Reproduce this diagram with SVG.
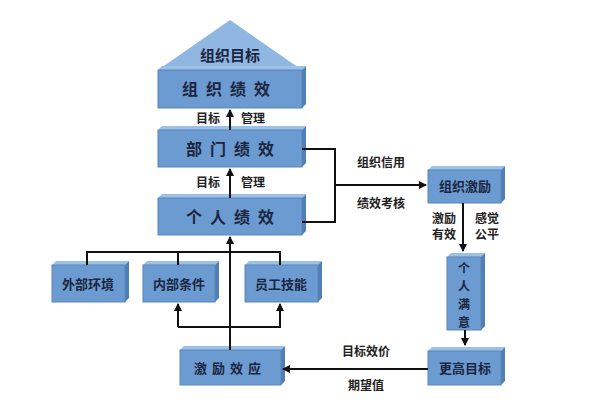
<svg xmlns="http://www.w3.org/2000/svg" width="616" height="406" viewBox="0 0 616 406">
<defs>
<marker id="ah" markerWidth="8" markerHeight="8" refX="7" refY="4" orient="auto" markerUnits="userSpaceOnUse"><path d="M0,0 L8,4 L0,8 z" fill="#111"/></marker>
</defs>
<style>
.b{fill:#6b9bd0;stroke:#5a86b8;stroke-width:1}
.t{fill:#9cc0e6}
.s{fill:#4f7fb4}
.x{font-family:"Noto Sans CJK SC",sans-serif;font-weight:bold;fill:#1c2640;text-anchor:middle}
.l{font-family:"Noto Sans CJK SC",sans-serif;font-weight:bold;fill:#222;font-size:12px;text-anchor:middle}
.c{fill:none;stroke:#111;stroke-width:2}
</style>
<rect width="616" height="406" fill="#fff"/>
<g id="roof"><polygon points="230,20 302,70 158,70" fill="#8fb7e2"/><text class="x" x="230" y="61" font-size="15">组织目标</text></g>
<g id="org"><polygon class="t" points="158,70 302,70 306,66 162,66"/><polygon class="s" points="302,70 306,66 306,104 302,108"/><rect class="b" x="158" y="70" width="144" height="38"/><text class="x" x="230" y="95" font-size="16" letter-spacing="8">组织绩效</text></g>
<g id="dept"><polygon class="t" points="158,130 302,130 306,126 162,126"/><polygon class="s" points="302,130 306,126 306,163 302,167"/><rect class="b" x="158" y="130" width="144" height="37"/><text class="x" x="234" y="155" font-size="16" letter-spacing="8">部门绩效</text></g>
<g id="indiv"><polygon class="t" points="158,198 302,198 306,194 162,194"/><polygon class="s" points="302,198 306,194 306,231 302,235"/><rect class="b" x="158" y="198" width="144" height="37"/><text class="x" x="234" y="223" font-size="16" letter-spacing="8">个人绩效</text></g>
<g id="ext"><polygon class="t" points="52,265 125,265 129,261 56,261"/><polygon class="s" points="125,265 129,261 129,298 125,302"/><rect class="b" x="52" y="265" width="73" height="37"/><text class="x" x="88" y="289" font-size="13">外部环境</text></g>
<g id="inner"><polygon class="t" points="143,265 215,265 219,261 147,261"/><polygon class="s" points="215,265 219,261 219,298 215,302"/><rect class="b" x="143" y="265" width="72" height="37"/><text class="x" x="179" y="289" font-size="13">内部条件</text></g>
<g id="skill"><polygon class="t" points="245,265 318,265 322,261 249,261"/><polygon class="s" points="318,265 322,261 322,298 318,302"/><rect class="b" x="245" y="265" width="73" height="37"/><text class="x" x="281" y="289" font-size="13">员工技能</text></g>
<g id="effect"><polygon class="t" points="180,350 281,350 285,346 184,346"/><polygon class="s" points="281,350 285,346 285,381 281,385"/><rect class="b" x="180" y="350" width="101" height="35"/><text class="x" x="230" y="373" font-size="13" letter-spacing="5">激励效应</text></g>
<g id="orginc"><polygon class="t" points="428,170 501,170 505,166 432,166"/><polygon class="s" points="501,170 505,166 505,199 501,203"/><rect class="b" x="428" y="170" width="73" height="33"/><text class="x" x="465" y="191" font-size="13">组织激励</text></g>
<g id="satis"><polygon class="t" points="447,257 481,257 485,253 451,253"/><polygon class="s" points="481,257 485,253 485,326 481,330"/><rect class="b" x="447" y="257" width="34" height="73"/><text class="x" x="464" y="273" font-size="12">个</text><text class="x" x="464" y="291" font-size="12">人</text><text class="x" x="464" y="309" font-size="12">满</text><text class="x" x="464" y="327" font-size="12">意</text></g>
<g id="higher"><polygon class="t" points="428,351 501,351 505,347 432,347"/><polygon class="s" points="501,351 505,347 505,381 501,385"/><rect class="b" x="428" y="351" width="73" height="34"/><text class="x" x="465" y="373" font-size="13">更高目标</text></g>
<g id="connectors">
<path class="c" d="M230,130 V110" marker-end="url(#ah)"/>
<path class="c" d="M230,198 V169" marker-end="url(#ah)"/>
<path class="c" d="M302,149 H335 V222 H302"/>
<path class="c" d="M335,185 H426" marker-end="url(#ah)"/>
<path class="c" d="M463,203 V251" marker-end="url(#ah)"/>
<path class="c" d="M465,330 V345" marker-end="url(#ah)"/>
<path class="c" d="M428,369 H283" marker-end="url(#ah)"/>
<path class="c" d="M230,350 V237" marker-end="url(#ah)"/>
<path class="c" d="M87,265 V252 H280 V265 M178,252 V265"/>
<path class="c" d="M178,327 H280 V304" marker-end="url(#ah)"/>
<path class="c" d="M178,327 V304" marker-end="url(#ah)"/>
</g>
<g id="labels">
<text class="l" x="208" y="123">目标</text><text class="l" x="253" y="123">管理</text>
<text class="l" x="208" y="187">目标</text><text class="l" x="253" y="187">管理</text>
<text class="l" x="381" y="167">组织信用</text><text class="l" x="381" y="208">绩效考核</text>
<text class="l" x="444" y="223">激励</text><text class="l" x="444" y="239">有效</text>
<text class="l" x="487" y="223">感觉</text><text class="l" x="487" y="239">公平</text>
<text class="l" x="366" y="356">目标效价</text><text class="l" x="366" y="390">期望值</text>
</g>
</svg>
